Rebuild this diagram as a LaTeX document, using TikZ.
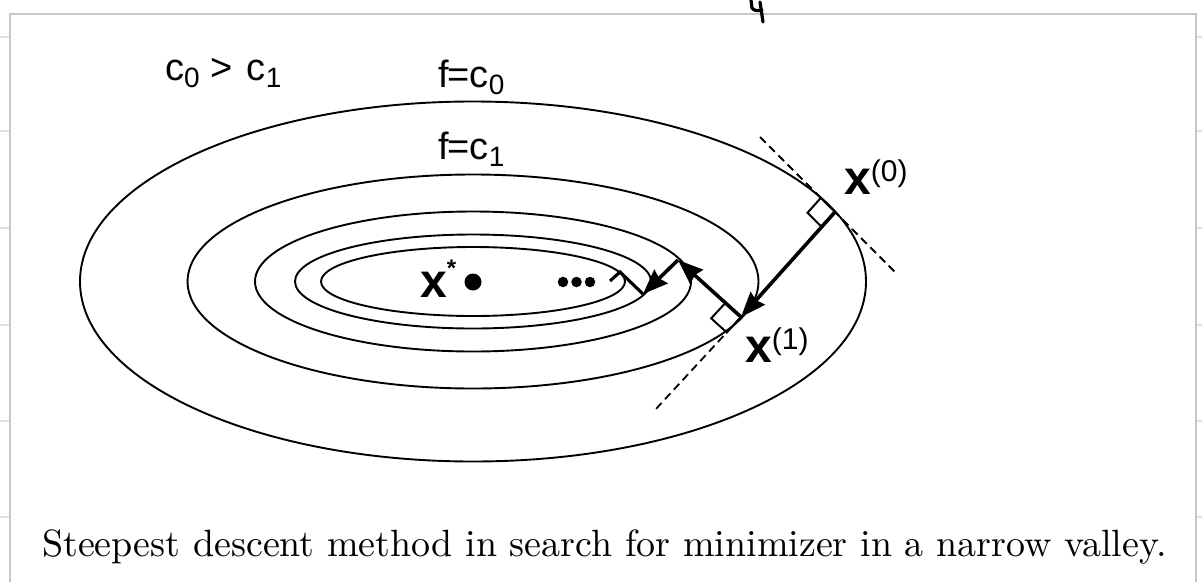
\documentclass[tikz,border=0pt]{standalone}
\usepackage{fontspec}
\usepackage{graphicx}
\newfontfamily\lsans{Liberation Sans}
\usetikzlibrary{arrows.meta,calc}
\begin{document}
\begin{tikzpicture}[x=1pt,y=-1pt,
  contour/.style={line width=1.9pt},
  stepline/.style={line width=3.6pt, -{Stealth[length=25pt,width=19pt,inset=2.5pt]}},
  zig/.style={line width=3.2pt},
  tangent/.style={line width=1.8pt, dash pattern=on 8pt off 5pt},
  rightang/.style={line width=2pt},
  framestyle/.style={draw=black!22, line width=1.2pt},
  stub/.style={draw=black!12, line width=1.5pt},
  lab/.style={inner sep=0pt, anchor=base west},
  bigdot/.style={circle, fill=black, inner sep=0pt, minimum size=17pt},
  smalldot/.style={circle, fill=black, inner sep=0pt, minimum size=10.5pt},
]
\useasboundingbox (0,0) rectangle (1202,582);
\fill[white] (0,0) rectangle (1202,582);
% screenshot frame
\draw[framestyle] (10,582) -- (10,14) -- (1196,14) -- (1196,582);
\foreach \yy in {37,131,228,325,421,517} {
  \draw[stub] (0,\yy) -- (9,\yy);
  \draw[stub] (1197,\yy) -- (1202,\yy);
}
% handwritten mark
\draw[line width=3.2pt, line cap=round, line join=round]
  (751,0) -- (752,8) .. controls (754,11) and (758,11) .. (762,10);
\draw[line width=3.2pt, line cap=round] (760,2) -- (763,22);

% level sets
\coordinate (c) at (473,281.5);
\draw[contour] (c) ellipse [x radius=393pt, y radius=180pt];
\draw[contour] (c) ellipse [x radius=285.5pt, y radius=107pt];
\draw[contour] (c) ellipse [x radius=218pt, y radius=70pt];
\draw[contour] (c) ellipse [x radius=178pt, y radius=47pt];
\draw[contour] (c) ellipse [x radius=152pt, y radius=34.5pt];

% iterates
\coordinate (x0) at (835,212);
\coordinate (x1) at (741,317);
\coordinate (x2) at (678,260);
\coordinate (x3) at (643,294);
\coordinate (x4) at (620,272);
\coordinate (x5) at (610,281);

% tangents
\coordinate (t0a) at (760,137);
\coordinate (t0b) at (895,272);
\coordinate (t1b) at (655,410);
\draw[tangent] (t0a) -- (t0b);
\draw[tangent] (x1) -- (t1b);

% right-angle marks
\coordinate (q0a) at ($(x0)!20pt!(t0a)$);
\coordinate (q0c) at ($(x0)!20pt!(x1)$);
\draw[rightang] (x0) -- (q0a) -- ($(q0a)+(q0c)-(x0)$) -- (q0c) -- cycle;
\coordinate (q1a) at ($(x1)!21pt!(x2)$);
\coordinate (q1c) at ($(x1)!21pt!(t1b)$);
\draw[rightang] (x1) -- (q1a) -- ($(q1a)+(q1c)-(x1)$) -- (q1c) -- cycle;

% steps
\draw[stepline] (x0) -- (x1);
\draw[stepline] (x1) -- (x2);
\draw[stepline] (x2) -- (x3);
\draw[zig] (x3) -- (x4) -- (x5);

% minimizer and dots
\node[bigdot] (xstar) at (473,282) {};
\node[smalldot] (d1) at (563,282) {};
\node[smalldot] (d2) at (576.5,282) {};
\node[smalldot] (d3) at (590,282) {};

% labels
\node[lab] (lxs) at (420,297) {\lsans\fontsize{48}{54}\selectfont\bfseries x\raisebox{21pt}{\fontsize{24}{26}\selectfont *}};
\node[lab] (lx0) at (844,194) {\lsans\fontsize{48}{54}\selectfont\bfseries x\raisebox{13pt}{\fontsize{30}{34}\selectfont\mdseries (0)}};
\node[lab] (lx1) at (745,362) {\lsans\fontsize{48}{54}\selectfont\bfseries x\raisebox{13pt}{\fontsize{30}{34}\selectfont\mdseries (1)}};
\node[lab] (lc) at (165,80) {\lsans\fontsize{38}{42}\selectfont c\raisebox{-7pt}{\fontsize{28}{30}\selectfont 0}\hspace{11pt}>\hspace{14pt}c\raisebox{-7pt}{\fontsize{28}{30}\selectfont 1}};
\node[lab] (lf0) at (438,87) {\lsans\fontsize{38}{42}\selectfont f\kern-1pt=c\raisebox{-7pt}{\fontsize{28}{30}\selectfont 0}};
\node[lab] (lf1) at (438,159) {\lsans\fontsize{38}{42}\selectfont f\kern-1pt=c\raisebox{-7pt}{\fontsize{28}{30}\selectfont 1}};

% caption
\node[lab] (cap) at (42,556) {\resizebox{1124pt}{!}{\fontsize{10}{12}\selectfont Steepest descent method in search for minimizer in a narrow valley.}};
\end{tikzpicture}
\end{document}
